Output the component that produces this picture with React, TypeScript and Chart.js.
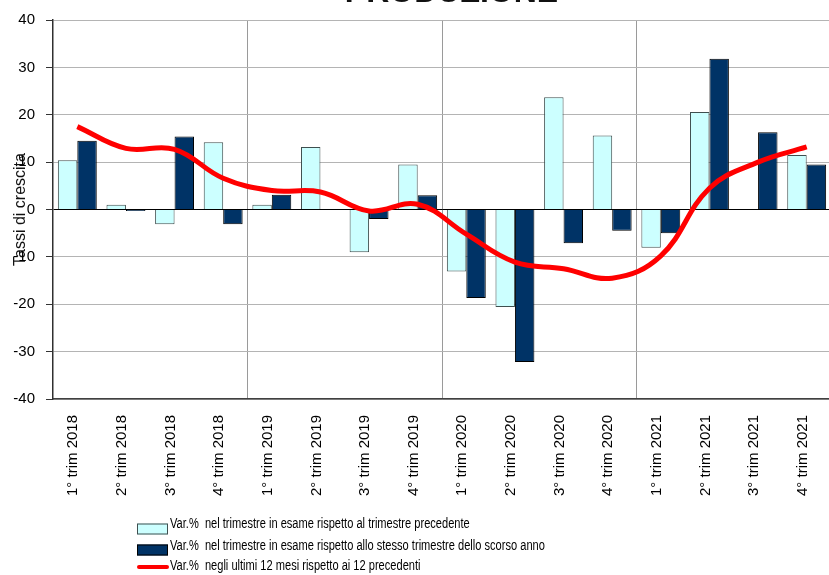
import React, { useEffect, useRef } from "react";
import { Chart, registerables } from "chart.js";

Chart.register(...registerables);

const categories = [
  "1° trim 2018", "2° trim 2018", "3° trim 2018", "4° trim 2018",
  "1° trim 2019", "2° trim 2019", "3° trim 2019", "4° trim 2019",
  "1° trim 2020", "2° trim 2020", "3° trim 2020", "4° trim 2020",
  "1° trim 2021", "2° trim 2021", "3° trim 2021", "4° trim 2021",
];

// Var.% vs previous quarter
const qoqValues = [10.4, 1.0, -3.1, 14.2, 1.0, 13.2, -9.0, 9.5, -13.1, -20.6, 23.7, 15.6, -8.1, 20.6, 0, 11.5];
// Var.% vs same quarter previous year
const yoyValues = [14.5, -0.3, 15.4, -3.1, 3.1, 0, -2.0, 3.0, -18.7, -32.2, -7.1, -4.5, -5.0, 31.8, 16.3, 9.5];
// Var.% last 12 months vs previous 12
const rolling12Values = [17.5, 12.9, 12.7, 6.6, 4.0, 3.7, -0.3, 1.1, -5.2, -11.1, -12.5, -14.5, -9.8, 4.5, 10.0, 13.2];

const seriesLabels = [
  "Var.%  nel trimestre in esame rispetto al trimestre precedente",
  "Var.%  nel trimestre in esame rispetto allo stesso trimestre dello scorso anno",
  "Var.%  negli ultimi 12 mesi rispetto ai 12 precedenti",
];

const titleText = "PRODUZIONE";
const yAxisTitle = "Tassi di crescita";
const yMin = -40;
const yMax = 40;
const yStep = 10;

const FONT = "'Liberation Sans', Arial, sans-serif";

const layoutTweaks = {
  id: "layoutTweaks",
  afterLayout(chart: any, _args: any, opts: any) {
    const tb = chart.titleBlock;
    if (tb && opts && opts.titleShift) {
      tb.left += opts.titleShift;
      tb.right += opts.titleShift;
    }
  },
};

const stackedLegend = {
  id: "stackedLegend",
  afterDraw(chart: any, _args: any, opts: any) {
    const ctx = chart.ctx as CanvasRenderingContext2D;
    ctx.save();
    ctx.font = `${opts.fontSize}px ${FONT}`;
    ctx.textBaseline = "middle";
    ctx.textAlign = "left";
    const x = opts.x;
    chart.data.datasets.forEach((ds: any, i: number) => {
      const ty = opts.textY[i];
      const my = opts.markY[i];
      if (ds.type === "line") {
        ctx.strokeStyle = ds.borderColor;
        ctx.lineWidth = opts.lineWidth;
        ctx.lineCap = "round";
        ctx.beginPath();
        ctx.moveTo(x + 2, my);
        ctx.lineTo(x + opts.boxWidth - 1, my);
        ctx.stroke();
      } else {
        ctx.fillStyle = ds.backgroundColor;
        ctx.fillRect(x, my - opts.boxHeight / 2, opts.boxWidth, opts.boxHeight);
        ctx.strokeStyle = ds.borderColor;
        ctx.lineWidth = 1;
        ctx.strokeRect(x + 0.5, my - opts.boxHeight / 2 + 0.5, opts.boxWidth - 1, opts.boxHeight - 1);
      }
      ctx.save();
      ctx.translate(x + opts.boxWidth + opts.gap, ty);
      ctx.scale(opts.condense, 1);
      ctx.fillStyle = opts.color;
      ctx.fillText(ds.label, 0, 0);
      ctx.restore();
    });
    ctx.restore();
  },
};

export default function App() {
  const canvasRef = useRef<HTMLCanvasElement | null>(null);

  useEffect(() => {
    document.body.style.margin = "0";
    const canvas = canvasRef.current;
    if (!canvas) return;
    Chart.defaults.font.family = FONT;

    const chart = new Chart(canvas, {
      type: "bar",
      data: {
        labels: categories,
        datasets: [
          {
            type: "bar",
            label: seriesLabels[0],
            data: qoqValues,
            backgroundColor: "#ccffff",
            borderColor: "#3f4f4f",
            borderWidth: 1,
            order: 1,
            categoryPercentage: 0.8,
            barPercentage: 1.0,
          },
          {
            type: "bar",
            label: seriesLabels[1],
            data: yoyValues,
            backgroundColor: "#003366",
            borderColor: "#000000",
            borderWidth: 1,
            order: 2,
            categoryPercentage: 0.8,
            barPercentage: 1.0,
          },
          {
            type: "line",
            label: seriesLabels[2],
            data: rolling12Values,
            borderColor: "#ff0000",
            backgroundColor: "#ff0000",
            borderWidth: 5,
            pointRadius: 0,
            tension: 0.4,
            fill: false,
            order: 0,
          } as any,
        ],
      },
      options: {
        responsive: false,
        animation: false,
        layout: { padding: 0 },
        plugins: {
          legend: { display: false },
          tooltip: { enabled: false },
          title: {
            display: true,
            text: titleText,
            fullSize: false,
            color: "#111111",
            font: { size: 32, weight: "bold", family: FONT },
            padding: { top: 13.7, bottom: 7.9 },
          },
          layoutTweaks: { titleShift: 9.5 },
          stackedLegend: {
            x: 137,
            boxWidth: 31,
            boxHeight: 11,
            gap: 2,
            fontSize: 15.5,
            condense: 0.715,
            color: "#000000",
            lineWidth: 4,
            textY: [564, 586, 606],
            markY: [569, 590, 607],
          },
        } as any,
        scales: {
          x: {
            offset: true,
            afterFit: (scale: any) => {
              scale.height = 176;
            },
            grid: {
              offset: true,
              drawTicks: true,
              tickLength: 16,
              tickColor: "rgba(0,0,0,0)",
              lineWidth: 1,
              color: (ctx: any) =>
                ctx.index > 0 && ctx.index % 4 === 0 ? "#9a9a9a" : "rgba(0,0,0,0)",
            },
            border: { display: true, color: "#404040", width: 1.5 },
            ticks: {
              autoSkip: false,
              maxRotation: 90,
              minRotation: 90,
              padding: 0,
              labelOffset: -4,
              color: "#000000",
              font: { size: 15, family: FONT },
            },
          },
          y: {
            min: yMin,
            max: yMax,
            afterFit: (scale: any) => {
              scale.width = 53;
            },
            ticks: {
              stepSize: yStep,
              padding: 11,
              color: "#000000",
              font: { size: 15, family: FONT },
            },
            grid: {
              drawTicks: true,
              tickLength: 7,
              tickColor: "#333333",
              lineWidth: 1,
              color: (ctx: any) =>
                ctx.tick && ctx.tick.value === 0 ? "#000000" : "#b4b4b4",
            },
            border: { display: true, color: "#303030", width: 1.5 },
            title: {
              display: true,
              text: yAxisTitle,
              color: "#111111",
              font: { size: 16, family: FONT },
              padding: { top: 11, bottom: 0 },
            },
          },
        },
      },
      plugins: [layoutTweaks, stackedLegend],
    });

    return () => {
      chart.destroy();
    };
  }, []);

  return (
    <div
      style={{
        position: "fixed",
        left: 0,
        top: 0,
        width: 829,
        height: 575,
        overflow: "hidden",
        background: "#ffffff",
      }}
    >
      <canvas
        ref={canvasRef}
        width={831}
        height={615}
        style={{ position: "absolute", left: 0, top: -40, width: 831, height: 615 }}
      />
    </div>
  );
}
